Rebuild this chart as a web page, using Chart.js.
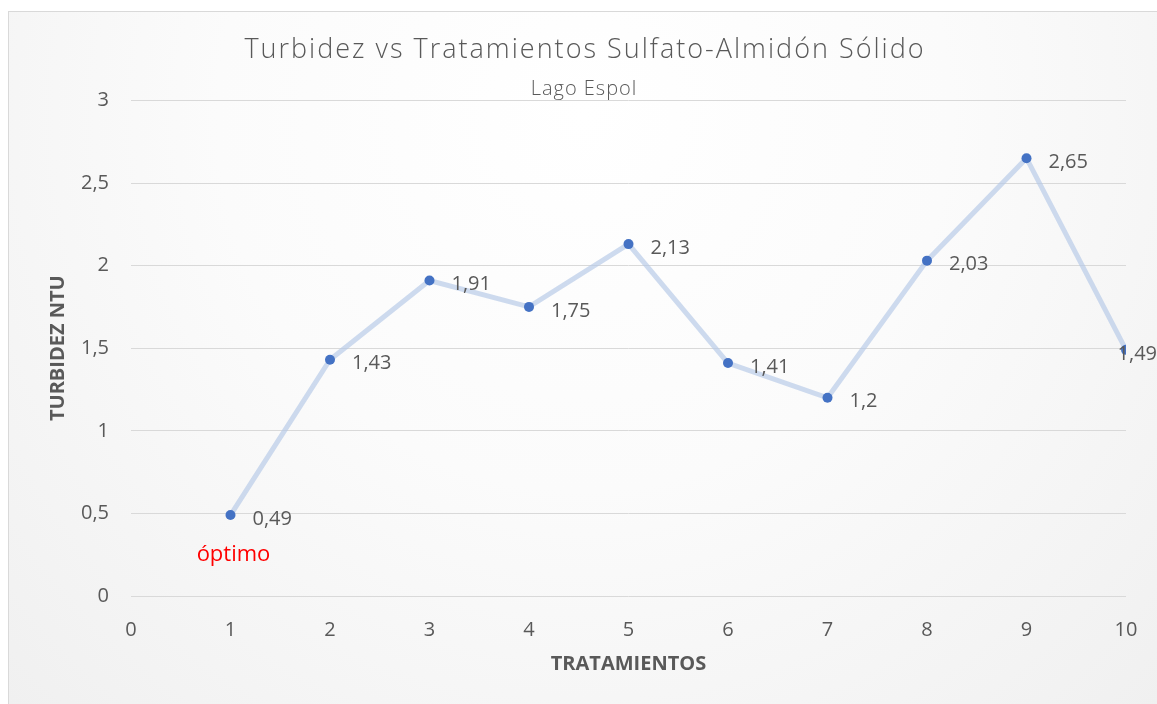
<!DOCTYPE html>
<html>
<head>
<meta charset="utf-8">
<script src="https://cdn.jsdelivr.net/npm/chart.js@4"></script>
<style>
  html, body { margin: 0; padding: 0; background: #fff; overflow: hidden; }
  #box {
    position: absolute; left: 8px; top: 11px;
    width: 1150px; height: 692px;
    border: 1px solid #d9d9d9;
    background: radial-gradient(ellipse at 50% 15%, #ffffff 0%, #fbfbfb 45%, #f0f0f0 100%);
  }
  #chart { display: block; }
</style>
</head>
<body>
<div id="box"><canvas id="chart" width="1150" height="692"></canvas></div>
<script>
// Turbidez vs tratamientos - Lago Espol

const treatments = [1, 2, 3, 4, 5, 6, 7, 8, 9, 10];
const turbidity = [0.49, 1.43, 1.91, 1.75, 2.13, 1.41, 1.2, 2.03, 2.65, 1.49];
const xTicks = [0, 1, 2, 3, 4, 5, 6, 7, 8, 9, 10];
const yTicks = [0, 0.5, 1, 1.5, 2, 2.5, 3];

const titleText = 'Turbidez vs Tratamientos Sulfato-Almidón Sólido';
const subtitleText = 'Lago Espol';

// note placed under the best treatment (data units)
const noteText = 'óptimo';
const noteAt = { x: 1.03, y: 0.25 };

const GREY = '#595959';
const FONT = '"Open Sans", "Noto Sans", sans-serif';

const fmt = (v) => String(v).replace('.', ',');

// value labels right of each point + red note
const valueLabels = {
  id: 'valueLabels',
  afterDatasetsDraw(chart) {
    const ctx = chart.ctx;
    const meta = chart.getDatasetMeta(0);
    ctx.save();
    ctx.font = '20px ' + FONT;
    ctx.fillStyle = GREY;
    ctx.textBaseline = 'middle';
    ctx.textAlign = 'left';
    meta.data.forEach((pt, i) => {
      const txt = fmt(turbidity[i]);
      const w = ctx.measureText(txt).width;
      const lx = Math.min(pt.x + 22, chart.width - w - 2);
      ctx.fillText(txt, lx, pt.y + 4);
    });
    const sx = chart.scales.x, sy = chart.scales.y;
    ctx.font = '22px ' + FONT;
    ctx.fillStyle = '#ff0000';
    ctx.textAlign = 'center';
    ctx.fillText(noteText, sx.getPixelForValue(noteAt.x), sy.getPixelForValue(noteAt.y));
    ctx.restore();
  }
};

// titles drawn by hand so they can get letter spacing (the built-in
// title/subtitle stay on, transparent, just to reserve the space)
const spacedTitles = {
  id: 'spacedTitles',
  afterDraw(chart) {
    const ctx = chart.ctx;
    const cx = chart.width / 2;
    ctx.save();
    ctx.fillStyle = GREY;
    ctx.textAlign = 'center';
    ctx.textBaseline = 'middle';
    ctx.letterSpacing = '2px';
    ctx.font = '300 27px ' + FONT;
    ctx.fillText(titleText, cx + 1, 38);
    ctx.letterSpacing = '1px';
    ctx.font = '300 20px ' + FONT;
    ctx.fillText(subtitleText, cx, 77);
    ctx.restore();
  }
};

new Chart(document.getElementById('chart'), {
  type: 'line',
  data: {
    datasets: [
      {
        data: treatments.map((t, i) => ({ x: t, y: turbidity[i] })),
        borderColor: 'rgba(180, 199, 231, 0.65)',
        borderWidth: 5,
        pointRadius: 5,
        pointHoverRadius: 5,
        pointBackgroundColor: '#4472c4',
        pointBorderColor: '#4472c4',
        pointBorderWidth: 0,
        tension: 0
      }
    ]
  },
  options: {
    responsive: false,
    animation: false,
    layout: { padding: { left: 0, right: 33, top: 0, bottom: 0 } },
    plugins: {
      legend: { display: false },
      tooltip: { enabled: false },
      title: {
        display: true,
        text: titleText,
        color: 'rgba(0,0,0,0)',
        font: { family: FONT, size: 27, weight: '300' },
        padding: { top: 22, bottom: 10 }
      },
      subtitle: {
        display: true,
        text: subtitleText,
        color: 'rgba(0,0,0,0)',
        font: { family: FONT, size: 20, weight: '300' },
        padding: { top: 0, bottom: 0 }
      }
    },
    scales: {
      x: {
        type: 'linear',
        min: 0,
        max: 10,
        afterFit: (s) => { s.height = 108; },
        afterBuildTicks: (s) => { s.ticks = xTicks.map((v) => ({ value: v })); },
        grid: { display: false },
        border: { display: false },
        ticks: { color: GREY, font: { family: FONT, size: 20 }, padding: 14, callback: (v) => fmt(v) },
        title: {
          display: true,
          text: 'TRATAMIENTOS',
          color: GREY,
          font: { family: FONT, size: 20, weight: 'bold' },
          padding: { top: 0, bottom: 28 }
        }
      },
      y: {
        min: 0,
        max: 3,
        afterFit: (s) => { s.width = 122; },
        afterBuildTicks: (s) => { s.ticks = yTicks.map((v) => ({ value: v })); },
        grid: { color: '#d9d9d9', lineWidth: 1, drawTicks: false },
        border: { display: false },
        ticks: { color: GREY, font: { family: FONT, size: 20 }, padding: 22, callback: (v) => fmt(v) },
        title: {
          display: true,
          text: 'TURBIDEZ NTU',
          color: GREY,
          font: { family: FONT, size: 20, weight: 'bold' },
          padding: { top: 37, bottom: 0 }
        }
      }
    }
  },
  plugins: [valueLabels, spacedTitles]
});
</script>
</body>
</html>
